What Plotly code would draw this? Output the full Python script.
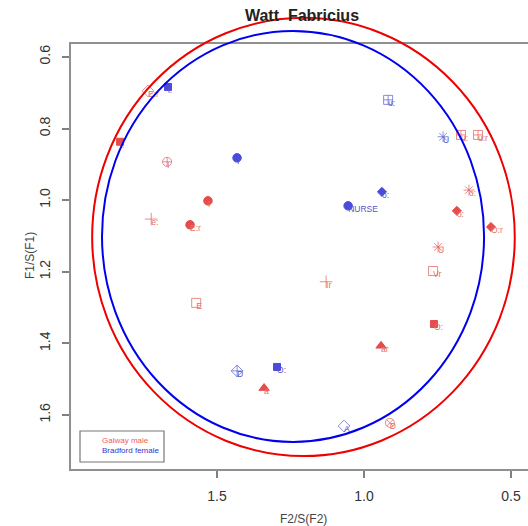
import plotly.graph_objects as go

# ---------------- data ----------------
galway_x = [1.735, 1.830, 1.670, 1.531, 1.724, 1.592, 1.571, 1.340, 1.129, 0.765,
            0.762, 0.942, 0.912, 0.748, 0.670, 0.612, 0.643, 0.684, 0.568]
galway_y = [0.695, 0.837, 0.893, 1.002, 1.053, 1.069, 1.287, 1.525, 1.228, 1.198,
            1.346, 1.407, 1.622, 1.131, 0.818, 0.818, 0.972, 1.030, 1.075]
galway_labels = ["E:r", "i:", "I", "I", "e:", "E:r", "E", "a", "Ir", "Vr",
                 "O:", "ar", "D", "U", "u:", "u:r", "o:", "o:", "O:r"]
galway_symbols = ["diamond-open", "square", "circle-cross-open", "circle", "cross-thin-open",
                  "circle", "square-open", "triangle-up", "cross-thin-open", "square-open",
                  "square", "triangle-up", "circle-x-open", "asterisk-open", "square-cross-open",
                  "square-cross-open", "asterisk-open", "diamond", "diamond"]

bradford_x = [1.667, 1.432, 0.918, 0.731, 0.939, 1.054, 1.432, 1.296, 1.068]
bradford_y = [0.684, 0.882, 0.720, 0.823, 0.977, 1.016, 1.477, 1.466, 1.631]
bradford_labels = ["i:", "I", "u:", "U", "o:", "NURSE", "D", "O:", "A"]
bradford_symbols = ["square", "circle", "square-cross-open", "asterisk-open", "diamond",
                    "circle", "diamond-cross-open", "square", "diamond-open"]

# ellipses: centre x, centre y, radius x, radius y
ellipse_galway = [1.206, 1.103, 0.719, 0.612]
ellipse_bradford = [1.2415, 1.1014, 0.650, 0.574]

x_ticks = [1.5, 1.0, 0.5]
y_ticks = [0.6, 0.8, 1.0, 1.2, 1.4, 1.6]
x_range = [1.997, 0.442]
y_range = [1.751, 0.564]

RED = "#dd0000"
RED_OPEN = "#e35a5a"
BLUE = "#0000cc"
BLUE_OPEN = "#5a5ad2"
RED_TXT = "#e07070"
BLUE_TXT = "#5555c8"

size_map = {"circle": 8.5, "square": 7, "triangle-up": 9, "diamond": 7}


def sizes(symbols):
    return [size_map.get(s, 9) for s in symbols]


def colors(symbols, solid, light):
    return [light if s.endswith("-open") else solid for s in symbols]


fig = go.Figure()

for xs, ys, labs, syms, col, lcol, tcol in [
    (galway_x, galway_y, galway_labels, galway_symbols, RED, RED_OPEN, RED_TXT),
    (bradford_x, bradford_y, bradford_labels, bradford_symbols, BLUE, BLUE_OPEN, BLUE_TXT),
]:
    cols = colors(syms, col, lcol)
    fig.add_trace(go.Scatter(
        x=xs, y=ys, mode="markers",
        marker=dict(symbol=syms, size=sizes(syms), color=cols,
                    line=dict(color=cols, width=1)),
        showlegend=False, hoverinfo="skip"))
    fig.add_trace(go.Scatter(
        x=xs, y=ys, mode="text", text=labs, textposition="bottom right",
        textfont=dict(size=8.5, color=tcol, family="Liberation Sans"),
        showlegend=False, hoverinfo="skip", cliponaxis=False))


# ellipses drawn through axis-domain fractions so they are not clipped
def to_dom(v, r):
    return (v - r[0]) / (r[1] - r[0])


for (cx, cy, rx, ry), col in [(ellipse_galway, "#ee0000"), (ellipse_bradford, "#0000ee")]:
    fig.add_shape(type="circle", xref="x domain", yref="y domain",
                  x0=to_dom(cx - rx, x_range), x1=to_dom(cx + rx, x_range),
                  y0=to_dom(cy - ry, y_range), y1=to_dom(cy + ry, y_range),
                  line=dict(color=col, width=2), layer="above")

# legend box
fig.add_shape(type="rect", xref="paper", yref="paper",
              x0=0.0197, x1=0.2035, y0=0.0165, y1=0.0894,
              line=dict(color="#777777", width=1.2))
fig.add_annotation(text="Galway male", xref="paper", yref="paper", x=0.0635, y=0.0659,
                   xanchor="left", yanchor="middle", showarrow=False,
                   font=dict(size=8, color="#ee6060", family="Liberation Sans"))
fig.add_annotation(text="Bradford female", xref="paper", yref="paper", x=0.0635, y=0.0424,
                   xanchor="left", yanchor="middle", showarrow=False,
                   font=dict(size=8, color="#3333cc", family="Liberation Sans"))

# axis titles
fig.add_annotation(text="F2/S(F2)", xref="paper", yref="paper", x=0.5077, y=-0.1176,
                   xanchor="center", yanchor="middle", showarrow=False,
                   font=dict(size=12, color="#444444", family="Liberation Sans"))
fig.add_annotation(text="F1/S(F1)", xref="paper", yref="paper", x=-0.0897, y=0.501,
                   xanchor="center", yanchor="middle", showarrow=False, textangle=-90,
                   font=dict(size=12, color="#444444", family="Liberation Sans"))

fig.update_layout(
    width=528, height=526,
    margin=dict(l=71, r=0, t=44, b=57),
    paper_bgcolor="white", plot_bgcolor="white",
    title=dict(text="<b>Watt  Fabricius</b>", x=0.5055, xref="paper",
               y=1 - 15 / 526, yref="container", xanchor="center", yanchor="middle",
               font=dict(size=16, color="#222222", family="Liberation Sans")),
    xaxis=dict(range=x_range, tickvals=x_ticks, ticktext=[f"{v:.1f}" for v in x_ticks],
               showgrid=False, zeroline=False, showline=True, mirror=True,
               linecolor="#909090", linewidth=2, ticks="outside", ticklen=7,
               tickcolor="#808080", tickwidth=1.5, ticklabelstandoff=6,
               tickfont=dict(size=14, color="#333333", family="Liberation Sans")),
    yaxis=dict(range=y_range, tickvals=y_ticks, ticktext=[f"{v:.1f}" for v in y_ticks],
               showgrid=False, zeroline=False, showline=True, mirror=False,
               linecolor="#909090", linewidth=2, ticks="outside", ticklen=7,
               tickcolor="#808080", tickwidth=1.5, tickangle=-90, ticklabelstandoff=6,
               tickfont=dict(size=14, color="#333333", family="Liberation Sans")),
)

fig.write_html("out.html")
